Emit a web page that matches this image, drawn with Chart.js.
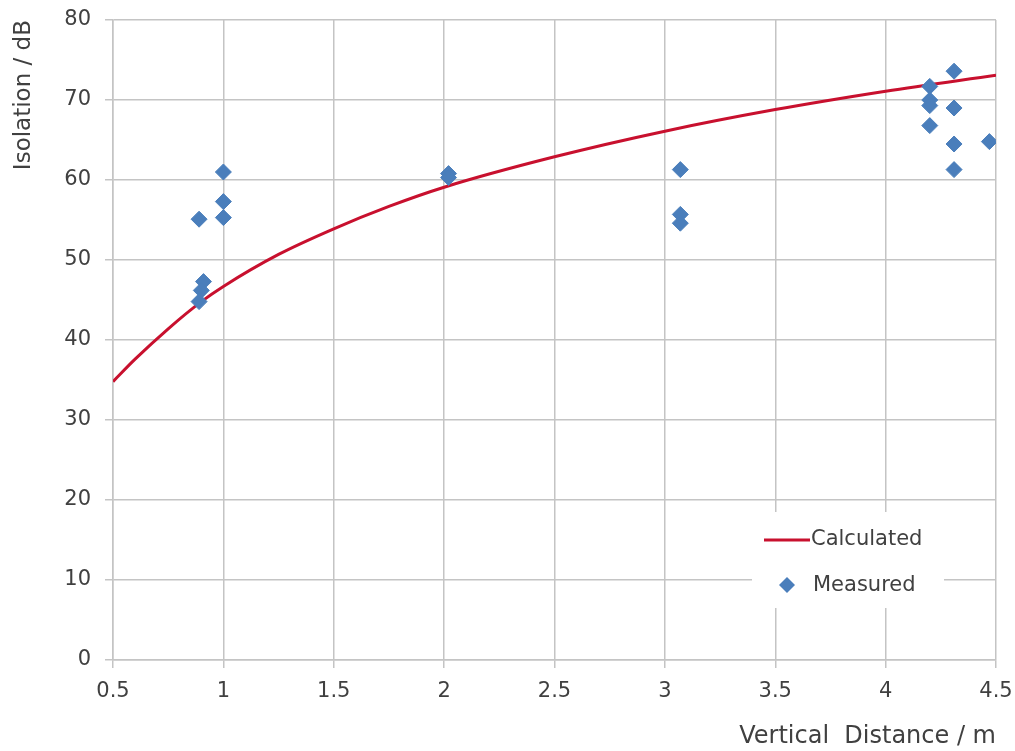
<!DOCTYPE html>
<html>
<head>
<meta charset="utf-8">
<script src="https://cdn.jsdelivr.net/npm/chart.js@4/dist/chart.umd.min.js"></script>
<style>
  html, body { margin: 0; padding: 0; background: #fff; }
  #wrap { width: 1015px; height: 751px; }
</style>
</head>
<body>
<div id="wrap"><canvas id="isoChart"></canvas></div>
<script>
// calculated curve
const calcDistance = [0.5, 0.6, 0.75, 0.9, 1, 1.25, 1.5, 1.75, 2, 2.5, 3, 3.5, 4, 4.5];
const calcIsolation = [34.8, 37.6, 41.4, 44.8, 46.7, 50.7, 53.9, 56.7, 59.1, 62.9, 66.1, 68.8, 71.1, 73.1];

// measured points
const measDistance = [0.89, 0.91, 0.90, 0.89, 1.0, 1.0, 1.0, 2.02, 2.02, 3.07, 3.07, 3.07, 4.2, 4.2, 4.2, 4.2, 4.31, 4.31, 4.31, 4.31, 4.47];
const measIsolation = [55.1, 47.3, 46.2, 44.8, 61.0, 57.3, 55.3, 60.8, 60.3, 61.3, 55.7, 54.6, 71.7, 70.0, 69.3, 66.8, 73.6, 69.0, 64.5, 61.3, 64.8];

const xTicks = [0.5, 1, 1.5, 2, 2.5, 3, 3.5, 4, 4.5];

const redLine = "#c8102e";
const blueMark = "#4a7ebb";
const textColor = "#404040";
const gridColor = "#c4c4c4";
const fontFamily = "'DejaVu Sans', sans-serif";

// legend drawn inside the plot, bottom right, on a white box
const boxLegend = {
    id: "boxLegend",
    afterDatasetsDraw(chart) {
        const ctx = chart.ctx;
        ctx.save();
        ctx.fillStyle = "#ffffff";
        ctx.fillRect(752, 512, 192, 96);
        ctx.strokeStyle = redLine;
        ctx.lineWidth = 3;
        ctx.beginPath();
        ctx.moveTo(764, 540);
        ctx.lineTo(810, 540);
        ctx.stroke();
        ctx.fillStyle = blueMark;
        ctx.beginPath();
        ctx.moveTo(787, 577);
        ctx.lineTo(795, 585);
        ctx.lineTo(787, 593);
        ctx.lineTo(779, 585);
        ctx.closePath();
        ctx.fill();
        ctx.fillStyle = textColor;
        ctx.font = "21px " + fontFamily;
        ctx.textBaseline = "middle";
        ctx.fillText("Calculated", 811, 540);
        ctx.fillText("Measured", 813, 586);
        ctx.restore();
    }
};

const ctx = document.getElementById("isoChart").getContext("2d");
new Chart(ctx, {
    data: {
        datasets: [{
            type: "line",
            label: "Calculated",
            data: calcDistance.map((d, i) => ({ x: d, y: calcIsolation[i] })),
            borderColor: redLine,
            borderWidth: 3,
            pointRadius: 0,
            cubicInterpolationMode: "monotone",
            fill: false,
            order: 2
        }, {
            type: "scatter",
            label: "Measured",
            data: measDistance.map((d, i) => ({ x: d, y: measIsolation[i] })),
            pointStyle: "rectRot",
            pointRadius: 8,
            pointBackgroundColor: blueMark,
            pointBorderColor: blueMark,
            order: 1
        }]
    },
    options: {
        responsive: true,
        maintainAspectRatio: false,
        animation: false,
        layout: { padding: { left: 0, right: 19, top: 20, bottom: 0 } },
        plugins: {
            legend: { display: false },
            tooltip: { enabled: false }
        },
        scales: {
            x: {
                type: "linear",
                min: 0.5,
                max: 4.5,
                afterBuildTicks: axis => { axis.ticks = xTicks.map(v => ({ value: v })); },
                afterFit: axis => {
                    axis.height = 91;
                    axis.paddingLeft = 0;
                    axis.paddingRight = 0;
                },
                grid: { color: gridColor, lineWidth: 1.5, tickLength: 8 },
                border: { color: gridColor, width: 1.5 },
                ticks: {
                    color: textColor,
                    font: { family: fontFamily, size: 21 },
                    padding: 11,
                    maxRotation: 0,
                    callback: v => String(v)
                },
                title: {
                    display: true,
                    text: "Vertical  Distance / m",
                    align: "end",
                    color: textColor,
                    font: { family: fontFamily, size: 24 },
                    padding: { top: 0, bottom: 0 }
                }
            },
            y: {
                min: 0,
                max: 80,
                ticks: {
                    stepSize: 10,
                    color: textColor,
                    font: { family: fontFamily, size: 21 },
                    padding: 14
                },
                afterFit: axis => {
                    axis.width = 113;
                    axis.paddingTop = 0;
                    axis.paddingBottom = 0;
                },
                grid: { color: gridColor, lineWidth: 1.5, tickLength: 8 },
                border: { color: gridColor, width: 1.5 },
                title: {
                    display: true,
                    text: "Isolation / dB",
                    align: "end",
                    color: textColor,
                    font: { family: fontFamily, size: 23 },
                    padding: { top: 10, bottom: 0 }
                }
            }
        }
    },
    plugins: [boxLegend]
});
</script>
</body>
</html>
